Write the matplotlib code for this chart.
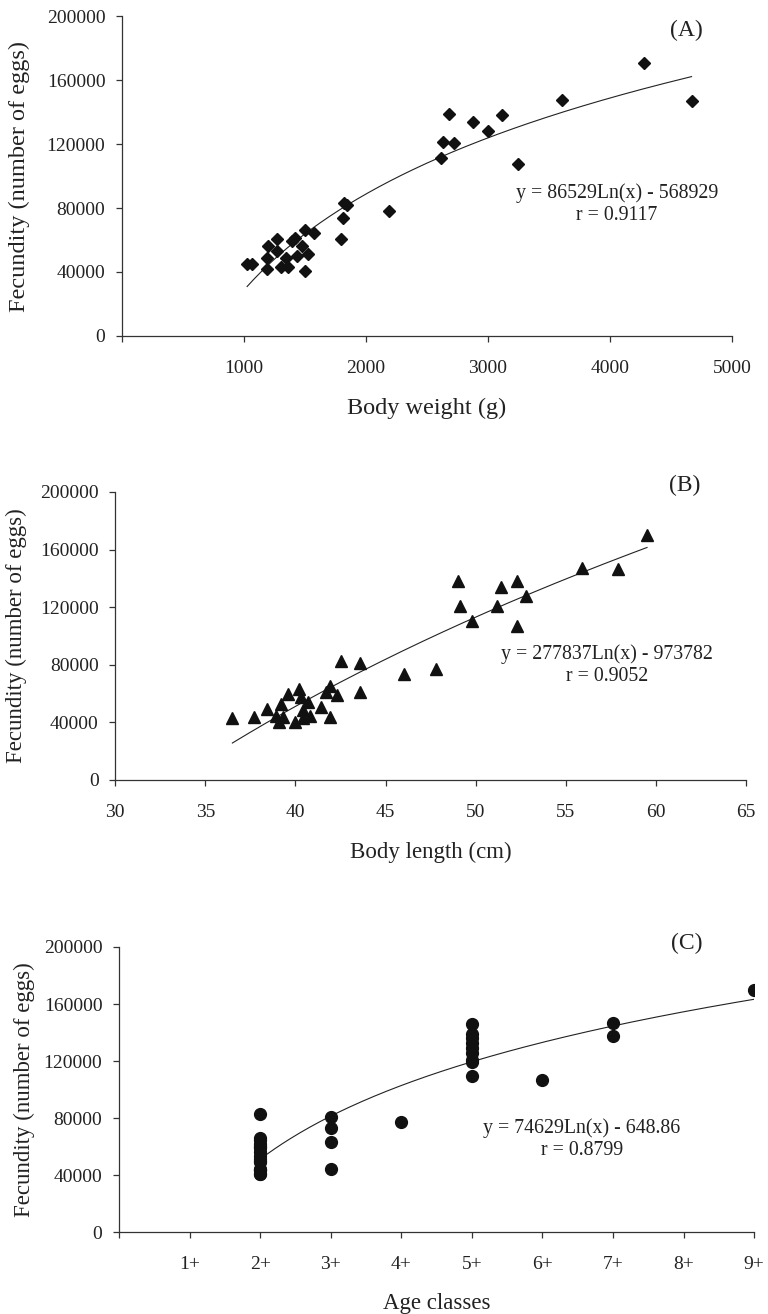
import numpy as np
import matplotlib.pyplot as plt

plt.rcParams['font.family'] = ['Liberation Serif', 'DejaVu Serif']

# (A) body weight (g) vs fecundity
weight = [1025, 1069, 1186, 1186, 1195, 1273, 1273, 1302, 1361, 1346, 1390, 1419,
          1434, 1478, 1498, 1521, 1498, 1574, 1792, 1813, 1819, 1848, 2192, 2616,
          2630, 2724, 2683, 2879, 3004, 3113, 3244, 3609, 4280, 4669]
fec_w = [44800, 44800, 41700, 48960, 56250, 60400, 53125, 43330, 43330, 48960, 59375, 61460,
         50000, 56250, 66040, 51460, 40625, 64580, 60830, 73540, 83330, 81875, 78125, 111460,
         121460, 120420, 138540, 133960, 128125, 138125, 107710, 147710, 170400, 146900]

# (B) body length (cm) vs fecundity
length = [36.5, 37.7, 38.4, 38.9, 39.1, 39.2, 39.6, 39.3, 40.0, 40.2, 40.3, 40.7,
          40.4, 40.8, 40.4, 41.4, 41.9, 41.7, 41.9, 42.3, 42.5, 43.6, 43.6, 46.0,
          47.8, 49.0, 49.1, 49.8, 51.2, 51.4, 52.3, 52.3, 52.8, 55.9, 57.9, 59.5]
fec_l = [43300, 43900, 49000, 44400, 40500, 53000, 59500, 43900, 40500, 63500, 57400, 54400,
         48600, 44400, 42800, 50900, 43500, 61300, 65000, 59000, 82800, 81400, 61300, 73700,
         77200, 138400, 121100, 110400, 121100, 134000, 137900, 107100, 127900, 147300, 146600, 170000]

# (C) age class vs fecundity
age = [2, 2, 2, 2, 2, 2, 2, 2, 2, 2, 2, 2, 2, 2, 2, 2, 2,
       3, 3, 3, 3, 4,
       5, 5, 5, 5, 5, 5, 5, 5, 5, 6, 7, 7, 9]
fec_a = [40600, 41000, 43300, 43800, 44000, 49000, 50000, 51500, 53100, 56300, 58600, 59400,
         60400, 61500, 64600, 66000, 82500,
         80900, 73200, 63300, 44100, 76900,
         145900, 138800, 136000, 132500, 129000, 125500, 120800, 119600, 109700, 106700,
         146600, 137700, 170000]

age_ticks = list(range(10))
age_labels = [''] + ['%d+' % i for i in range(1, 10)]

fits = [(86529, -568929), (277837, -973782), (74629, -648.86)]
eqs = ['y = 86529Ln(x) - 568929\nr = 0.9117',
       'y = 277837Ln(x) - 973782\nr = 0.9052',
       'y = 74629Ln(x) - 648.86\nr = 0.8799']

fig = plt.figure(figsize=(7.68, 13.14), dpi=100)
axA = fig.add_axes([0.159, 0.7443, 0.794, 0.2435])
axB = fig.add_axes([0.150, 0.4064, 0.8216, 0.2192])
axC = fig.add_axes([0.155, 0.0624, 0.827, 0.2169])

panels = [
    (axA, weight, fec_w, 'D', 6.5, 'Body weight (g)', '(A)', (0.811, 0.411), (0.926, 0.956), 17.5, 12),
    (axB, length, fec_l, '^', 8.5, 'Body length (cm)', '(B)', (0.78, 0.398), (0.903, 1.024), 16.5, 9),
    (axC, age, fec_a, 'o', 8.5, 'Age classes', '(C)', (0.729, 0.327), (0.894, 1.014), 16.5, 6),
]

for i, (ax, x, y, m, ms, xl, tag, eqpos, tagpos, lfs, ypad) in enumerate(panels):
    ax.plot(x, y, m, color='#111111', markersize=ms, linestyle='none', zorder=3)
    a, b = fits[i]
    xf = np.linspace(min(x), max(x), 200)
    ax.plot(xf, a * np.log(xf) + b, color='#222222', linewidth=0.8, zorder=2)

    ax.set_ylim(0, 200000)
    ax.set_yticks(range(0, 200001, 40000))
    ax.spines['top'].set_visible(False)
    ax.spines['right'].set_visible(False)
    for s in ['left', 'bottom']:
        ax.spines[s].set_linewidth(0.9)
        ax.spines[s].set_color('#333333')
    ax.tick_params(direction='out', length=4, width=0.9, color='#333333',
                   labelsize=14, colors='#222222')
    ax.tick_params(axis='x', pad=13)
    ax.tick_params(axis='y', pad=8)
    ax.set_xlabel(xl, fontsize=lfs, color='#222222', labelpad=15)
    ax.set_ylabel('Fecundity (number of eggs)', fontsize=lfs, color='#222222', labelpad=ypad)
    ax.text(eqpos[0], eqpos[1], eqs[i], transform=ax.transAxes, ha='center', va='center',
            fontsize=14.3, color='#222222', linespacing=1.2)
    ax.text(tagpos[0], tagpos[1], tag, transform=ax.transAxes, ha='center', va='center',
            fontsize=17, color='#222222')

axA.set_xlim(0, 5000)
axA.set_xticks(range(0, 5001, 1000))
axA.set_xticklabels([''] + [str(v) for v in range(1000, 5001, 1000)])

axB.set_xlim(30, 65)
axB.set_xticks(range(30, 66, 5))

axC.set_xlim(0, 9)
axC.set_xticks(age_ticks)
axC.set_xticklabels(age_labels)

fig.savefig('out.png', dpi=100)
